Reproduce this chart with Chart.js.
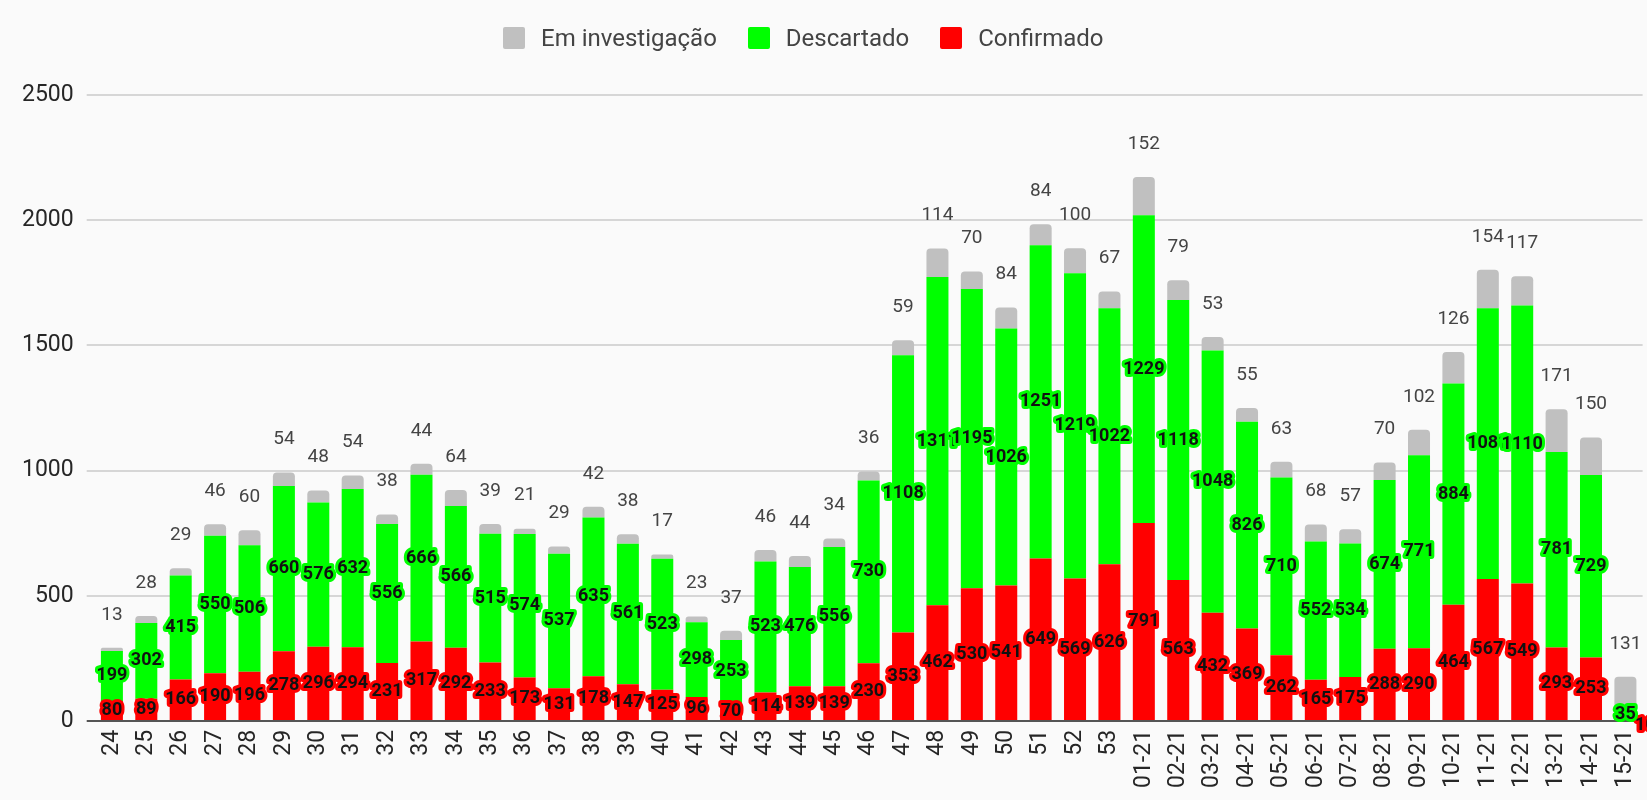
<!DOCTYPE html>
<html lang="pt">
<head>
<meta charset="utf-8">
<script src="https://cdn.jsdelivr.net/npm/chart.js@4.4.1/dist/chart.umd.min.js"></script>
<style>
  html, body { margin: 0; padding: 0; width: 1647px; height: 800px; overflow: hidden; background: #fafafa; font-family: Roboto, sans-serif; }
  #wrap { position: relative; width: 1647px; height: 800px; overflow: hidden; }
  #chart-weeks { position: absolute; left: 0; top: 0; }
  #legend { position: absolute; top: 26px; left: 503px; margin: 0; padding: 0; list-style: none; display: flex; align-items: center; }
  #legend li { display: flex; align-items: center; margin-right: 31px; font-size: 24px; color: #444; line-height: 24px; }
  #legend .sw { width: 22px; height: 22px; border-radius: 2px; margin-right: 16px; }
</style>
</head>
<body>
<div id="wrap">
  <canvas id="chart-weeks"></canvas>
  <ul id="legend"></ul>
</div>
<script>
const weeks = ['24', '25', '26', '27', '28', '29', '30', '31', '32', '33', '34', '35', '36', '37', '38', '39', '40', '41', '42', '43',
  '44', '45', '46', '47', '48', '49', '50', '51', '52', '53', '01-21', '02-21', '03-21', '04-21', '05-21', '06-21', '07-21', '08-21',
  '09-21', '10-21', '11-21', '12-21', '13-21', '14-21', '15-21'];
const confirmado = [80, 89, 166, 190, 196, 278, 296, 294, 231, 317, 292, 233, 173, 131, 178, 147, 125, 96, 70, 114, 139, 139, 230,
  353, 462, 530, 541, 649, 569, 626, 791, 563, 432, 369, 262, 165, 175, 288, 290, 464, 567, 549, 293, 253, 10];
const descartado = [199, 302, 415, 550, 506, 660, 576, 632, 556, 666, 566, 515, 574, 537, 635, 561, 523, 298, 253, 523, 476, 556, 730,
  1108, 1311, 1195, 1026, 1251, 1219, 1022, 1229, 1118, 1048, 826, 710, 552, 534, 674, 771, 884, 1081, 1110, 781, 729, 35];
const investigacao = [13, 28, 29, 46, 60, 54, 48, 54, 38, 44, 64, 39, 21, 29, 42, 38, 17, 23, 37, 46, 44, 34, 36,
  59, 114, 70, 84, 84, 100, 67, 152, 79, 53, 55, 63, 68, 57, 70, 102, 126, 154, 117, 171, 150, 131];
const yTicks = [0, 500, 1000, 1500, 2000, 2500];

const C_RED = '#ff0000';
const C_GREEN = '#00ff00';
const C_GREY = '#c0c0c0';
const TICK = '#262626';
const GRID = '#d6d6d6';

// value labels: centred in red/green segments with a halo, above the bar for the grey one
const barLabels = {
  id: 'barLabels',
  afterDatasetsDraw(chart) {
    const ctx = chart.ctx;
    ctx.save();
    ctx.textAlign = 'center';
    ctx.textBaseline = 'middle';
    ctx.lineJoin = 'round';
    chart.data.datasets.forEach((ds, di) => {
      const meta = chart.getDatasetMeta(di);
      meta.data.forEach((bar, i) => {
        const txt = String(ds.data[i]);
        if (ds.labelOnTop) {
          ctx.font = '19px Roboto';
          ctx.fillStyle = '#444';
          ctx.fillText(txt, bar.x, bar.y - 33);
          return;
        }
        let x = bar.x, y = (bar.y + bar.base) / 2;
        if (bar.base - bar.y < 6) { x += 20; y = bar.base + 6; }
        ctx.font = 'bold 18px Roboto';
        ctx.strokeStyle = ds.backgroundColor;
        ctx.lineWidth = 6;
        ctx.strokeText(txt, x, y);
        ctx.fillStyle = '#111';
        ctx.fillText(txt, x, y);
      });
    });
    ctx.restore();
  }
};

function makeChart() {
  const canvas = document.getElementById('chart-weeks');
  canvas.width = 1662;
  canvas.height = 800;

  new Chart(canvas, {
    type: 'bar',
    data: {
      labels: weeks,
      datasets: [
        { label: 'Confirmado', data: confirmado, backgroundColor: C_RED, barPercentage: 0.64, categoryPercentage: 1 },
        { label: 'Descartado', data: descartado, backgroundColor: C_GREEN, barPercentage: 0.64, categoryPercentage: 1 },
        { label: 'Em investigação', data: investigacao, backgroundColor: C_GREY, barPercentage: 0.64, categoryPercentage: 1,
          borderRadius: { topLeft: 4, topRight: 4 }, borderSkipped: false, labelOnTop: true }
      ]
    },
    options: {
      responsive: false,
      animation: false,
      layout: { padding: { top: 95, left: 9, right: 0, bottom: 3 } },
      plugins: {
        legend: { display: false },
        tooltip: { enabled: false }
      },
      scales: {
        x: {
          stacked: true,
          grid: { display: false, drawTicks: false },
          border: { display: false },
          ticks: { color: TICK, font: { family: 'Roboto', size: 23 }, minRotation: 90, maxRotation: 90, padding: 9, autoSkip: false }
        },
        y: {
          stacked: true,
          min: yTicks[0],
          max: yTicks[yTicks.length - 1],
          afterBuildTicks: (axis) => { axis.ticks = yTicks.map(v => ({ value: v })); },
          border: { display: false },
          grid: { color: (c) => c.tick && c.tick.value === 0 ? '#555' : GRID, lineWidth: 2, tickLength: 8 },
          ticks: { color: TICK, font: { family: 'Roboto', size: 23 }, padding: 13, callback: (v) => String(v) }
        }
      }
    },
    plugins: [barLabels]
  });
}

// legend in the reference order
const legendItems = [['Em investigação', C_GREY], ['Descartado', C_GREEN], ['Confirmado', C_RED]];
document.getElementById('legend').innerHTML = legendItems.map(([l, c]) => `
  <li><span class="sw" style="background:${c}"></span><span>${l}</span></li>
`).join('');

// make sure Roboto is measured, not a fallback font
Promise.all([document.fonts.load('23px Roboto'), document.fonts.load('bold 18px Roboto')])
  .then(makeChart, makeChart);
</script>
</body>
</html>
